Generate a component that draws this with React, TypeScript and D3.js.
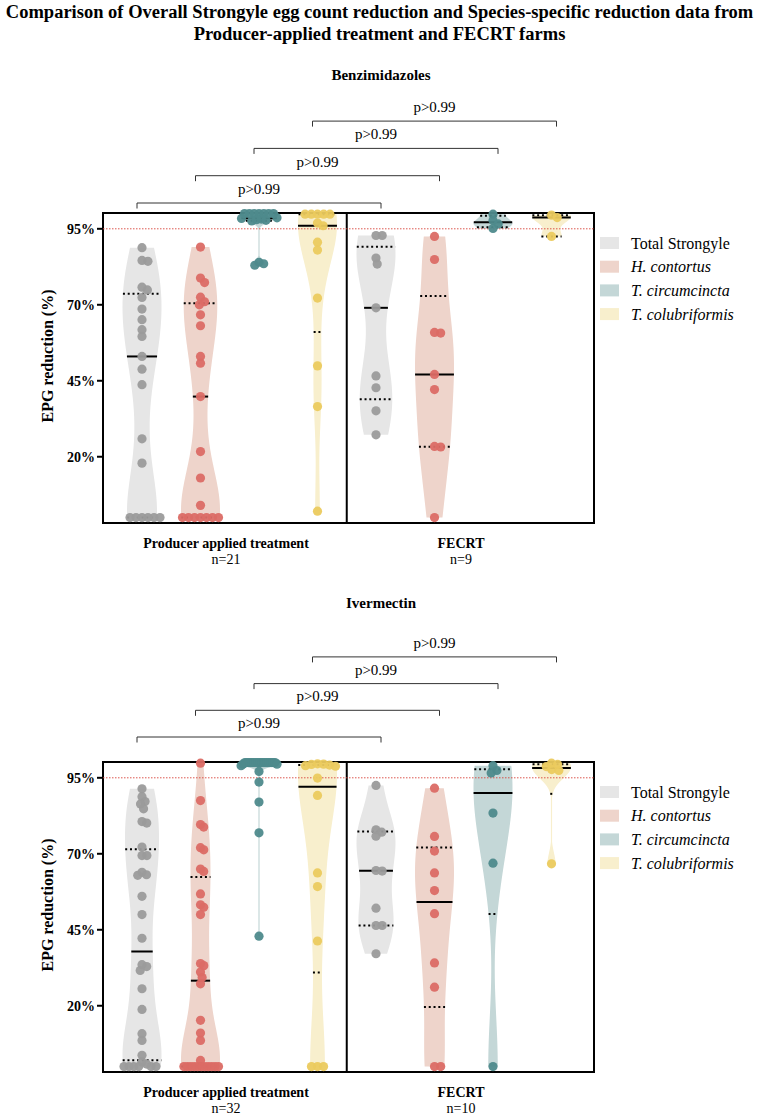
import React from "react";
import * as d3 from "d3";

const FONT = "'Liberation Serif', 'Times New Roman', Times, serif";

// ---------- text ----------
const titleLines = [
  "Comparison of Overall Strongyle egg count reduction and Species-specific reduction data from",
  "Producer-applied treatment and FECRT farms",
];
const panelTitles = ["Benzimidazoles", "Ivermectin"];
const groupLabels = ["Producer applied treatment", "FECRT"];
const nLabelsBz = ["n=21", "n=9"];
const nLabelsIv = ["n=32", "n=10"];
const speciesNames = ["Total Strongyle", "H. contortus", "T. circumcincta", "T. colubriformis"];
const speciesItalic = [false, true, true, true];
const violinFill = ["#e6e6e6", "#eed4cb", "#c4d7d7", "#f8efcd"];
const dotFill = ["#9b9b9b", "#db6c65", "#4e8a8c", "#ebca5e"];
const yTickValues = [20, 45, 70, 95];
const yTickLabels = ["20%", "45%", "70%", "95%"];
const yAxisTitle = "EPG reduction (%)";
const thresholdValue = 95;
const comparisonPairs = [[0, 4], [1, 5], [2, 6], [3, 7]];
const pLabelsBz = ["p>0.99", "p>0.99", "p>0.99", "p>0.99"];
const pLabelsIv = ["p>0.99", "p>0.99", "p>0.99", "p>0.99"];

// ---------- Benzimidazoles data (% EPG reduction per farm) ----------
const bzProdTotal = [88.8, 84.6, 84.3, 75.8, 74.9, 72.4, 68.6, 65.1, 61.8, 59.6, 53, 48.8, 43.7, 25.9, 17.9, 0, 0, 0, 0, 0, 0];
const bzProdHc = [89, 78.8, 77.3, 72.5, 71, 70, 66.7, 63.1, 53, 50.8, 39.8, 21.7, 13, 4, 0, 0, 0, 0, 0, 0, 0];
const bzProdTcirc = [100, 100, 100, 100, 100, 100, 100, 98.6, 98.4, 98.2, 98, 97.8, 97.6, 84, 83.5, 83];
const bzProdTcol = [99.8, 99.8, 99.8, 99.8, 99.8, 96.9, 96, 90.6, 88, 72.2, 49.9, 36.5, 2.1];
const bzFecTotal = [92.8, 92.8, 85.4, 83.4, 69, 46.6, 42.7, 35.1, 27.2];
const bzFecHc = [92.5, 84.9, 60.9, 60.7, 47.1, 42.1, 23.4, 23.2, 0];
const bzFecTcirc = [99.8, 97.7, 96.6, 95.1];
const bzFecTcol = [99.5, 98.7, 92.5];

// ---------- Ivermectin data ----------
const ivProdTotal = [91.4, 88.8, 87.2, 86.4, 84.8, 80.6, 80.1, 72.2, 69.4, 69.4, 63.9, 63.1, 62.9, 56, 50, 42.2, 33.5, 32.9, 31.6, 25.6, 18.8, 10.8, 8.6, 3.7, 1.5, 0.8, 0, 0, 0, 0, 0, 0];
const ivProdHc = [99.8, 87.5, 79.6, 78.8, 72, 71.3, 65, 64.2, 56.8, 53.2, 52.4, 50, 33.9, 33.2, 31.1, 29.3, 27.2, 15.2, 11, 8.6, 2, 0, 0, 0, 0, 0, 0, 0, 0, 0, 0, 0];
const ivProdTcirc = [100, 100, 100, 100, 100, 100, 100, 100, 100, 100, 100, 100, 100, 100, 100, 100, 99.5, 99.5, 99, 97.1, 93.6, 87, 76.9, 42.9];
const ivProdTcol = [99.6, 99.5, 99.4, 99.2, 99, 98.8, 94.9, 89.2, 63.7, 59.2, 41.3, 0, 0, 0];
const ivFecTotal = [92.5, 77.9, 77.1, 75.8, 64.5, 64.3, 52.1, 46.4, 46.4, 37.1];
const ivFecHc = [91.6, 75.7, 70.9, 63.7, 57.9, 50.3, 34.1, 26.1, 0, 0];
const ivFecTcirc = [99, 97.4, 96.6, 83.4, 66.9, 0];
const ivFecTcol = [99.8, 99.4, 98.7, 97.7, 97.4, 66.7];

const panels = [
  {
    title: panelTitles[0],
    nLabels: nLabelsBz,
    pLabels: pLabelsBz,
    series: [bzProdTotal, bzProdHc, bzProdTcirc, bzProdTcol, bzFecTotal, bzFecHc, bzFecTcirc, bzFecTcol],
  },
  {
    title: panelTitles[1],
    nLabels: nLabelsIv,
    pLabels: pLabelsIv,
    series: [ivProdTotal, ivProdHc, ivProdTcirc, ivProdTcol, ivFecTotal, ivFecHc, ivFecTcirc, ivFecTcol],
  },
];

// ---------- layout ----------
const W = 759;
const H = 1115;
const X_LEFT = 103;
const X_RIGHT = 594;
const PLOT_H = 310;
const layouts = [
  { top: 213, titleY: 80, bracketBase: 203, bracketStep: 27.3 },
  { top: 762, titleY: 608, bracketBase: 737, bracketStep: 26.7 },
];
const HALF_W = 19.5;
const DOT_R = 4.6;
const DOT_SEP = 6.2;
const MAX_SPREAD = 18;
const BW_FACTOR = 0.8;

function prismQ(sorted: number[], p: number) {
  const n = sorted.length;
  const pos = (n + 1) * p;
  if (pos <= 1) return sorted[0];
  if (pos >= n) return sorted[n - 1];
  const lo = Math.floor(pos);
  const f = pos - lo;
  return sorted[lo - 1] + f * (sorted[lo] - sorted[lo - 1]);
}

function makeViolin(vals: number[]) {
  const s = vals.slice().sort((a, b) => a - b);
  const n = s.length;
  const sd = d3.deviation(s) || 0;
  const iqr = prismQ(s, 0.75) - prismQ(s, 0.25);
  let spread = Math.min(sd, iqr / 1.34);
  if (!(spread > 0)) spread = sd || 1;
  const h = Math.max(BW_FACTOR * 0.9 * spread * Math.pow(n, -0.2), 1.2);
  const lo = s[0];
  const hi = s[n - 1];
  const steps = 160;
  const grid = d3.range(steps + 1).map((k) => lo + ((hi - lo) * k) / steps);
  const dens = grid.map((g) => d3.sum(s, (v) => Math.exp(-0.5 * ((g - v) / h) ** 2)));
  const maxD = d3.max(dens) || 1;
  const pts = grid.map((g, i) => ({ v: g, w: Math.max((dens[i] / maxD) * HALF_W, 0.6) }));
  const widthAt = (v: number) => {
    if (v < lo || v > hi) return 0;
    if (hi === lo) return HALF_W;
    const t = ((v - lo) / (hi - lo)) * steps;
    const i = Math.min(Math.floor(t), steps - 1);
    const f = t - i;
    return pts[i].w * (1 - f) + pts[i + 1].w * f;
  };
  return {
    pts,
    widthAt,
    median: prismQ(s, 0.5),
    q1: prismQ(s, 0.25),
    q3: prismQ(s, 0.75),
  };
}

function beeswarm(vals: number[], yf: (v: number) => number, d: number) {
  const order = vals.map((_, i) => i).sort((a, b) => vals[b] - vals[a]);
  const placed: { x: number; y: number }[] = [];
  const out: { x: number; y: number }[] = new Array(vals.length);
  for (const i of order) {
    const yi = yf(vals[i]);
    const cands = [0];
    for (const p of placed) {
      const dy = yi - p.y;
      if (Math.abs(dy) < d) {
        const dx = Math.sqrt(d * d - dy * dy);
        cands.push(p.x + dx + 0.01, p.x - dx - 0.01);
      }
    }
    cands.sort((a, b) => Math.abs(a) - Math.abs(b));
    let chosen = 0;
    for (const c of cands) {
      if (placed.every((p) => (p.x - c) ** 2 + (p.y - yi) ** 2 >= d * d - 0.05)) {
        chosen = c;
        break;
      }
    }
    placed.push({ x: chosen, y: yi });
    out[i] = { x: chosen, y: yi };
  }
  const m = d3.max(out, (p) => Math.abs(p.x)) || 0;
  const k = m > MAX_SPREAD ? MAX_SPREAD / m : 1;
  return out.map((p) => ({ x: p.x * k, y: p.y }));
}

function Panel({ idx }: { idx: number }) {
  const panel = panels[idx];
  const L = layouts[idx];
  const top = L.top;
  const bottom = top + PLOT_H;
  const x = d3.scalePoint<number>().domain(d3.range(8)).range([142, 551.5]);
  const y = d3.scaleLinear().domain([-1.8, 100.2]).range([bottom, top]);
  const divX = ((x(3) as number) + (x(4) as number)) / 2;
  const groupCenters = [226, 461];

  const violins = panel.series.map((vals) => makeViolin(vals));

  return (
    <g>
      <text x={381} y={L.titleY} textAnchor="middle" fontFamily={FONT} fontWeight="bold" fontSize={15}>
        {panel.title}
      </text>

      {/* comparison brackets */}
      {comparisonPairs.map(([a, b], k) => {
        const by = L.bracketBase - k * L.bracketStep;
        const x1 = (x(a) as number) - 5;
        const x2 = (x(b) as number) + 5;
        return (
          <g key={"br" + k}>
            <path
              d={`M${x1},${by + 5.5}V${by}H${x2}V${by + 5.5}`}
              fill="none"
              stroke="#333"
              strokeWidth={1}
            />
            <text x={(x1 + x2) / 2} y={by - 9} textAnchor="middle" fontFamily={FONT} fontSize={15}>
              {panel.pLabels[k]}
            </text>
          </g>
        );
      })}

      {/* violins */}
      {violins.map((vi, i) => {
        const cx = x(i) as number;
        const area = d3
          .area<{ v: number; w: number }>()
          .y((d) => y(d.v))
          .x0((d) => cx - d.w)
          .x1((d) => cx + d.w)
          .curve(d3.curveBasis);
        return <path key={"v" + i} d={area(vi.pts) || ""} fill={violinFill[i % 4]} stroke="none" />;
      })}

      {/* frame */}
      <rect x={X_LEFT} y={top} width={X_RIGHT - X_LEFT} height={PLOT_H} fill="none" stroke="#000" strokeWidth={2} />
      <line x1={divX} x2={divX} y1={top} y2={bottom} stroke="#000" strokeWidth={2} />

      {/* threshold */}
      <line
        x1={X_LEFT}
        x2={X_RIGHT}
        y1={y(thresholdValue)}
        y2={y(thresholdValue)}
        stroke="#d8433b"
        strokeWidth={0.9}
        strokeDasharray="1.5,1.5"
      />

      {/* median & quartiles */}
      {violins.map((vi, i) => {
        const cx = x(i) as number;
        const lines = [
          { v: vi.q1, dash: "2,2.8" },
          { v: vi.q3, dash: "2,2.8" },
          { v: vi.median, dash: "" },
        ];
        return (
          <g key={"m" + i}>
            {lines.map((ln, j) => {
              const w = vi.widthAt(ln.v);
              if (w < 0.7) return null;
              return (
                <line
                  key={j}
                  x1={cx - w}
                  x2={cx + w}
                  y1={y(ln.v)}
                  y2={y(ln.v)}
                  stroke="#000"
                  strokeWidth={2}
                  strokeDasharray={ln.dash || undefined}
                />
              );
            })}
          </g>
        );
      })}

      {/* dots */}
      {panel.series.map((vals, i) => {
        const cx = x(i) as number;
        const pos = beeswarm(vals, (v) => y(v), DOT_SEP);
        return (
          <g key={"d" + i}>
            {pos.map((p, j) => (
              <circle key={j} cx={cx + p.x} cy={p.y} r={DOT_R} fill={dotFill[i % 4]} fillOpacity={0.95} />
            ))}
          </g>
        );
      })}

      {/* y axis */}
      {yTickValues.map((t, k) => (
        <g key={"t" + k}>
          <line x1={X_LEFT - 6} x2={X_LEFT} y1={y(t)} y2={y(t)} stroke="#000" strokeWidth={2} />
          <text
            x={X_LEFT - 8}
            y={y(t)}
            dy="0.35em"
            textAnchor="end"
            fontFamily={FONT}
            fontWeight="bold"
            fontSize={14}
          >
            {yTickLabels[k]}
          </text>
        </g>
      ))}
      <text
        transform={`translate(53,${(top + bottom) / 2 - 12}) rotate(-90)`}
        textAnchor="middle"
        fontFamily={FONT}
        fontWeight="bold"
        fontSize={16}
      >
        {yAxisTitle}
      </text>

      {/* group labels */}
      {groupLabels.map((g, k) => (
        <g key={"g" + k}>
          <text x={groupCenters[k]} y={bottom + 25} textAnchor="middle" fontFamily={FONT} fontWeight="bold" fontSize={14}>
            {g}
          </text>
          <text x={groupCenters[k]} y={bottom + 41} textAnchor="middle" fontFamily={FONT} fontSize={14}>
            {panel.nLabels[k]}
          </text>
        </g>
      ))}

      {/* legend */}
      {speciesNames.map((s, k) => {
        const ly = top + 30 + k * 23.7;
        return (
          <g key={"l" + k}>
            <rect x={600} y={ly - 6} width={19} height={12} fill={violinFill[k]} />
            <text
              x={631}
              y={ly}
              dy="0.35em"
              fontFamily={FONT}
              fontSize={16}
              fontStyle={speciesItalic[k] ? "italic" : "normal"}
            >
              {s}
            </text>
          </g>
        );
      })}
    </g>
  );
}

export default function App() {
  return (
    <svg
      width={W}
      height={H}
      viewBox={`0 0 ${W} ${H}`}
      style={{ position: "absolute", left: 0, top: 0, background: "#fff" }}
    >
      <rect width={W} height={H} fill="#fff" />
      {titleLines.map((t, k) => (
        <text
          key={k}
          x={W / 2}
          y={18 + k * 22}
          textAnchor="middle"
          fontFamily={FONT}
          fontWeight="bold"
          fontSize={18.5}
        >
          {t}
        </text>
      ))}
      <Panel idx={0} />
      <Panel idx={1} />
    </svg>
  );
}
